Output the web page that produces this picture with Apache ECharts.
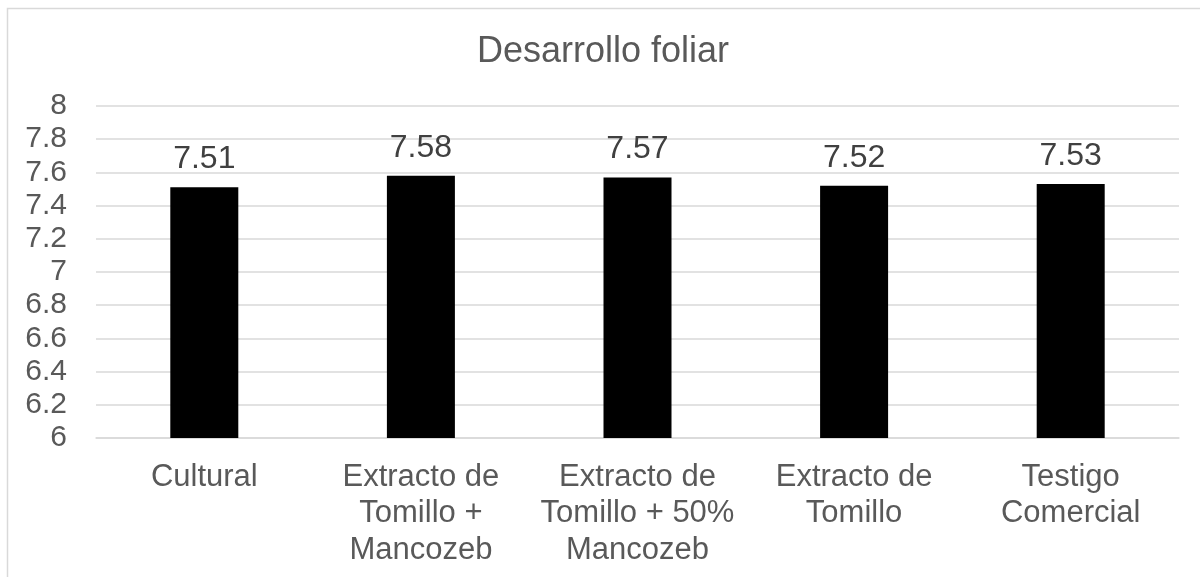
<!DOCTYPE html>
<html><head><meta charset="utf-8">
<script src="https://cdn.jsdelivr.net/npm/echarts@6/dist/echarts.min.js"></script>
<style>html,body{margin:0;padding:0;background:#fff}#c{width:1200px;height:577px}</style>
</head><body><div id="c"></div>
<script>
const categories = ['Cultural', 'Extracto de\nTomillo +\nMancozeb', 'Extracto de\nTomillo + 50%\nMancozeb', 'Extracto de\nTomillo', 'Testigo\nComercial'];
const values = [7.51, 7.58, 7.57, 7.52, 7.53];
const chart = echarts.init(document.getElementById('c'));
chart.setOption({
  animation: false,
  title: { text: 'Desarrollo foliar', left: 477, top: 34, padding: 0, textStyle: { fontFamily: 'Liberation Sans', fontSize: 36, fontWeight: 'normal', color: '#595959' } },
  grid: { left: 96, right: 21, top: 106, bottom: 139 },
  graphic: [{ type: 'rect', shape: { x: 7.5, y: 8.5, width: 1200, height: 600 }, style: { fill: 'none', stroke: '#d9d9d9', lineWidth: 1.5 }, silent: true }],
  xAxis: { type: 'category', data: categories,
    axisLine: { lineStyle: { color: '#d9d9d9', width: 1.5 } }, axisTick: { show: false },
    axisLabel: { interval: 0, margin: 21, fontFamily: 'Liberation Sans', fontSize: 31, color: '#595959', lineHeight: 36.5 } },
  yAxis: { type: 'value', min: 6, max: 8, interval: 0.2,
    axisLine: { show: false }, axisTick: { show: false },
    splitLine: { lineStyle: { color: '#d9d9d9', width: 1.5 } },
    axisLabel: { margin: 29, fontFamily: 'Liberation Sans', fontSize: 30, color: '#595959', formatter: v => String(Math.round(v*10)/10) } },
  series: [{ type: 'bar', data: values, barWidth: 68, itemStyle: { color: '#000' },
    label: { show: true, position: 'top', distance: 12, fontFamily: 'Liberation Sans', fontSize: 32, color: '#404040', formatter: p => p.value.toFixed(2) } }]
});
</script></body></html>
